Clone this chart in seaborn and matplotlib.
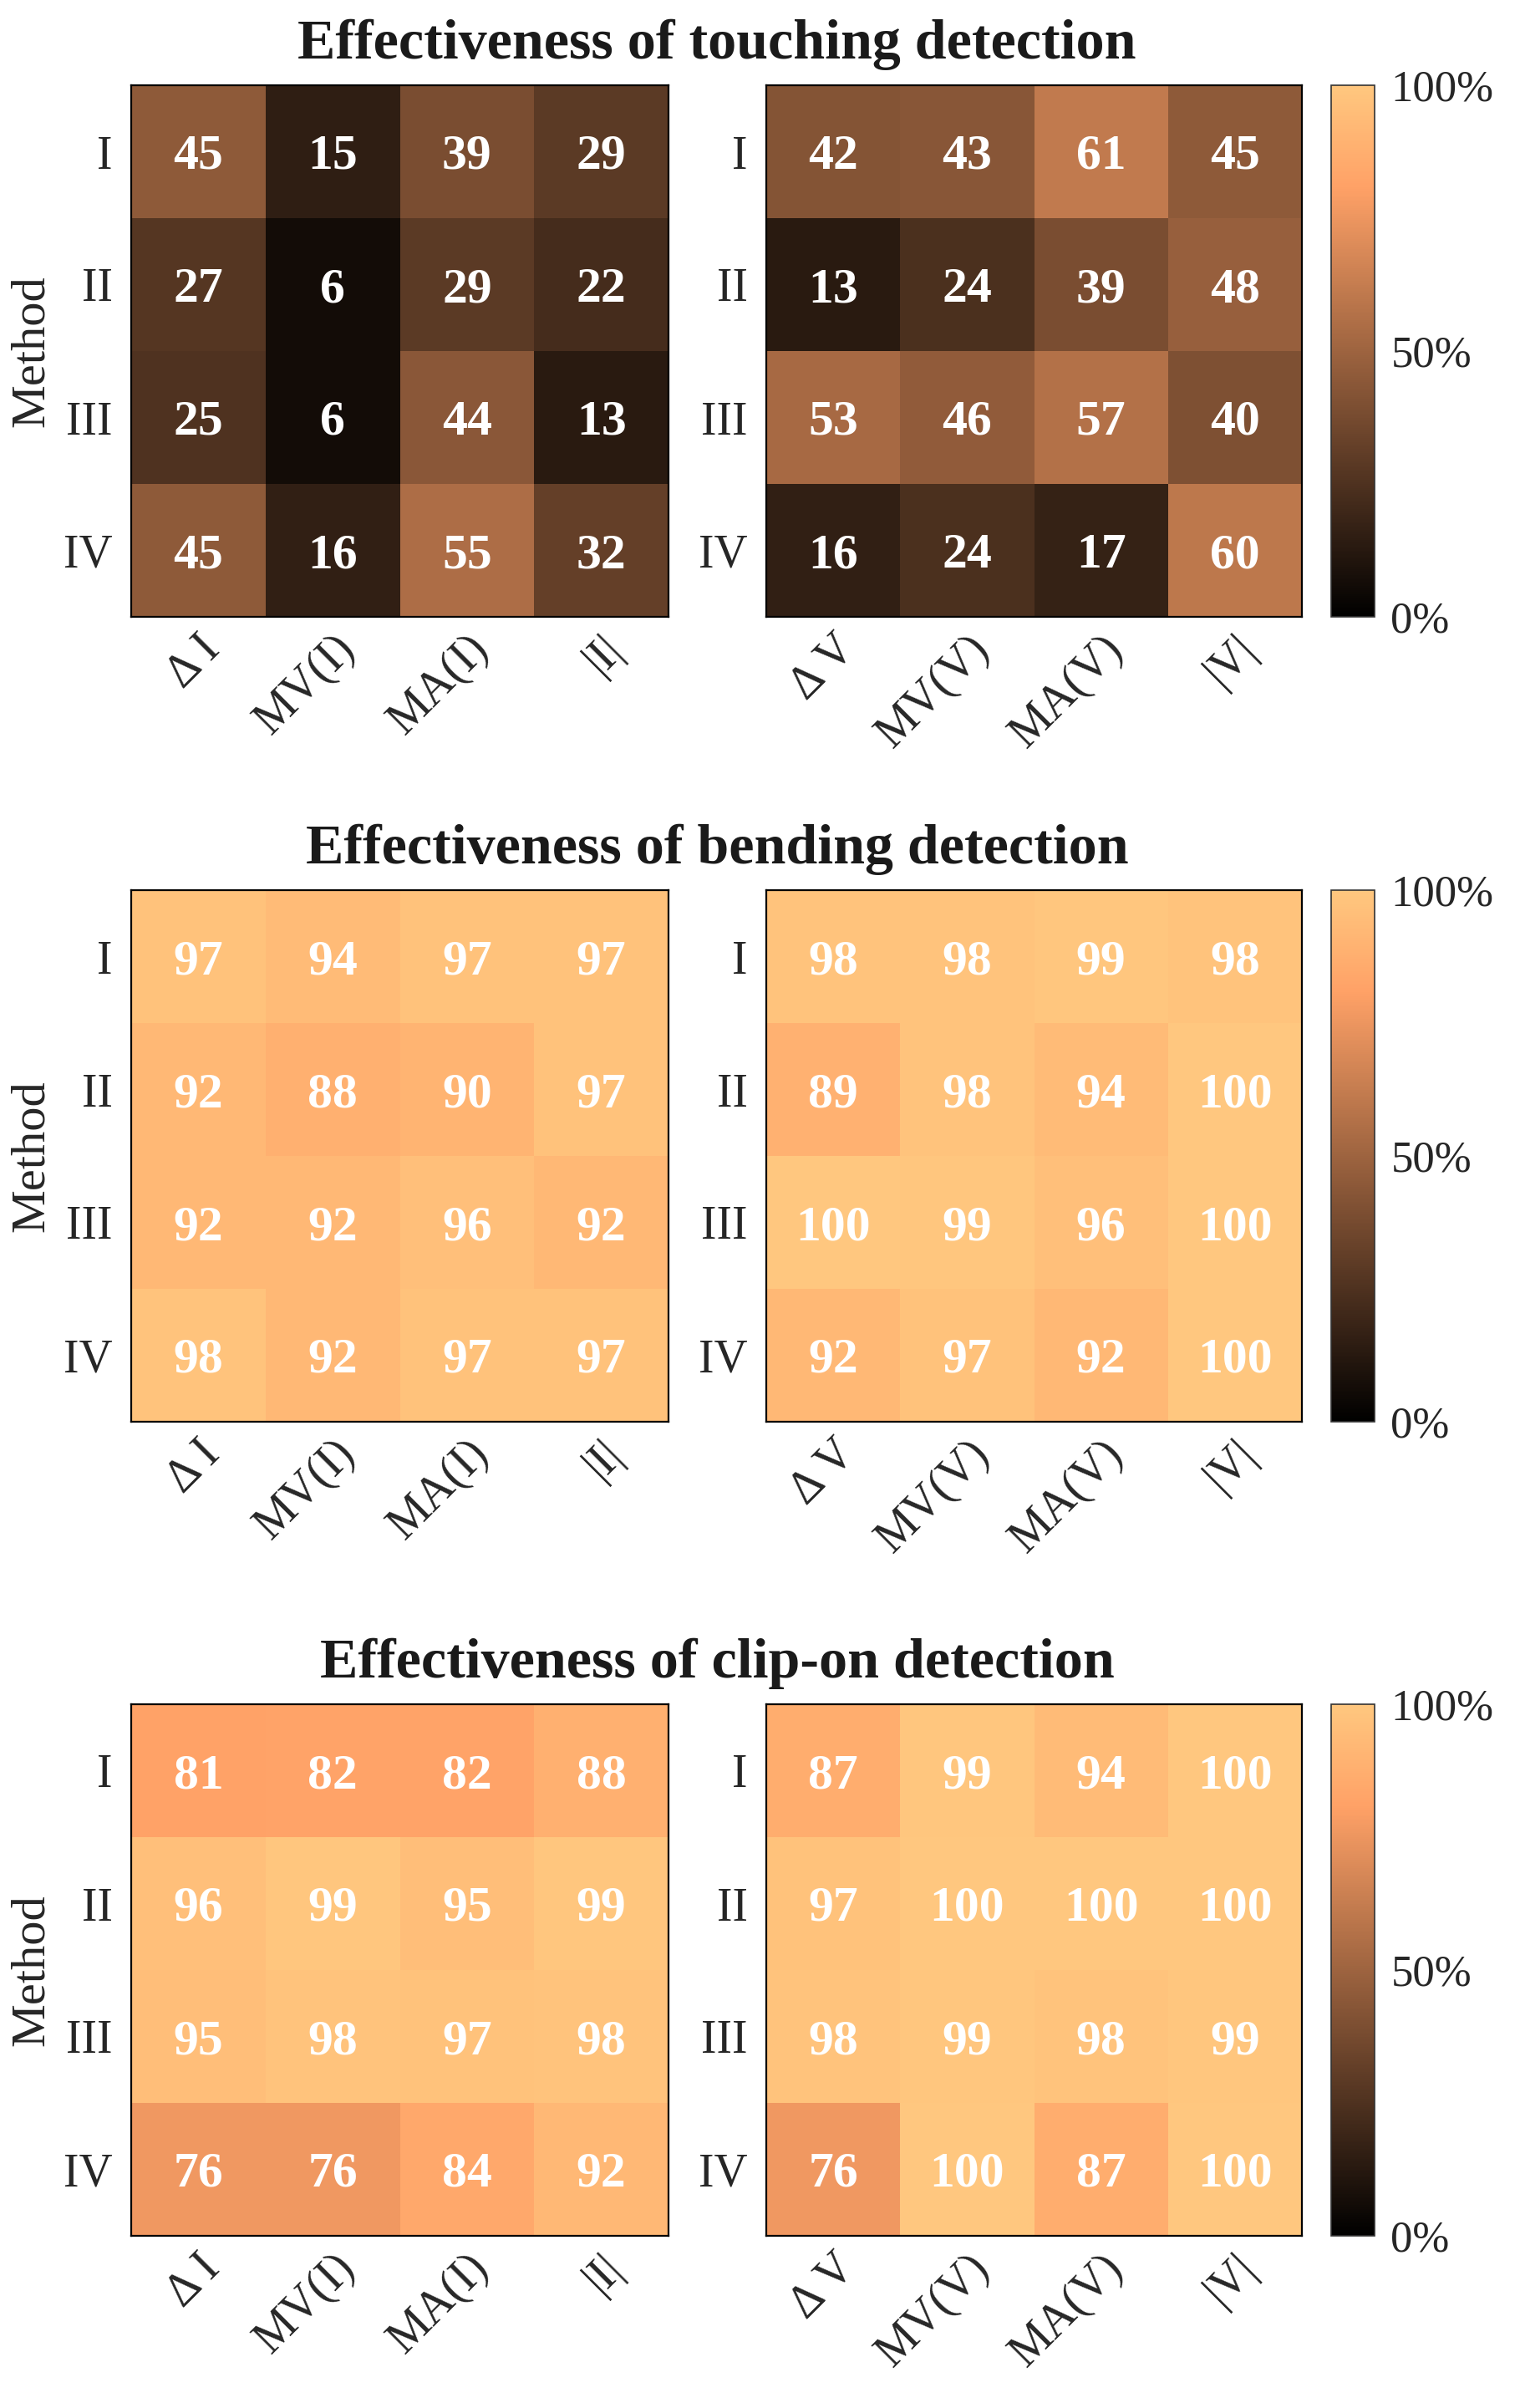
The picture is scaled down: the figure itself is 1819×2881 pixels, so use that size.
import pandas as pd
import seaborn as sns
import matplotlib.pyplot as plt
from matplotlib.transforms import ScaledTranslation

methods = ['I', 'II', 'III', 'IV']
current_features = ['Δ I', 'MV(I)', 'MA(I)', '|I|']
voltage_features = ['Δ V', 'MV(V)', 'MA(V)', '|V|']

touching_current = [[45, 15, 39, 29], [27, 6, 29, 22], [25, 6, 44, 13], [45, 16, 55, 32]]
touching_voltage = [[42, 43, 61, 45], [13, 24, 39, 48], [53, 46, 57, 40], [16, 24, 17, 60]]
bending_current = [[97, 94, 97, 97], [92, 88, 90, 97], [92, 92, 96, 92], [98, 92, 97, 97]]
bending_voltage = [[98, 98, 99, 98], [89, 98, 94, 100], [100, 99, 96, 100], [92, 97, 92, 100]]
clipon_current = [[81, 82, 82, 88], [96, 99, 95, 99], [95, 98, 97, 98], [76, 76, 84, 92]]
clipon_voltage = [[87, 99, 94, 100], [97, 100, 100, 100], [98, 99, 98, 99], [76, 100, 87, 100]]

titles = ['Effectiveness of touching detection',
          'Effectiveness of bending detection',
          'Effectiveness of clip-on detection']
cbar_ticks = [0, 50, 100]
cbar_labels = ['0%', '50%', '100%']

sns.set_theme(style='white')
plt.rcParams['font.family'] = ['Liberation Serif', 'DejaVu Serif']

W, H = 1819, 2881
fig = plt.figure(figsize=(W / 100, H / 100), dpi=100)

panels = [
    (touching_current, touching_voltage, 102),
    (bending_current, bending_voltage, 1065),
    (clipon_current, clipon_voltage, 2039),
]
ax_h = 636


def style_axis(ax, xlabels, show_ylabel):
    for s in ax.spines.values():
        s.set_visible(True)
        s.set_color('black')
        s.set_linewidth(1.6)
    ax.tick_params(axis='both', direction='in', length=6, width=1.3, color='black',
                   top=True, right=True, bottom=True, left=True,
                   labeltop=False, labelright=False, labelsize=40)
    ax.tick_params(axis='y', pad=16)
    ax.tick_params(axis='x', pad=22)
    ax.set_yticklabels(methods, rotation=0, va='center_baseline')
    ax.set_xticklabels(xlabels, rotation=45, ha='right', va='center',
                       rotation_mode='anchor')
    off = ScaledTranslation(18 / 100, 0, fig.dpi_scale_trans)
    for lab in ax.get_xticklabels():
        lab.set_transform(lab.get_transform() + off)
    ax.set_xlabel('')
    if show_ylabel:
        ax.set_ylabel('Method', fontsize=42)
        ax.yaxis.set_label_coords(-0.145, 0.5)
    else:
        ax.set_ylabel('')


for (cur, vol, top), title in zip(panels, titles):
    bottom = 1 - (top + ax_h) / H
    hfrac = ax_h / H
    ax_l = fig.add_axes([157 / W, bottom, 643 / W, hfrac])
    ax_r = fig.add_axes([917 / W, bottom, 641 / W, hfrac])
    cax = fig.add_axes([1593 / W, bottom, 52 / W, hfrac])

    annot_kws = {'color': 'white', 'fontsize': 43, 'fontweight': 'bold',
                 'va': 'center_baseline'}
    df_l = pd.DataFrame(cur, index=methods, columns=current_features)
    df_r = pd.DataFrame(vol, index=methods, columns=voltage_features)
    sns.heatmap(df_l, ax=ax_l, cmap='copper', vmin=0, vmax=100, annot=True, fmt='d',
                annot_kws=annot_kws, cbar=False)
    sns.heatmap(df_r, ax=ax_r, cmap='copper', vmin=0, vmax=100, annot=True, fmt='d',
                annot_kws=annot_kws, cbar=True, cbar_ax=cax,
                cbar_kws={'ticks': cbar_ticks})
    style_axis(ax_l, current_features, True)
    style_axis(ax_r, voltage_features, False)

    cbar = ax_r.collections[0].colorbar
    cbar.set_ticks(cbar_ticks)
    cbar.set_ticklabels(cbar_labels)
    cbar.ax.tick_params(length=0, labelsize=38, pad=14)
    cbar.outline.set_visible(True)
    cbar.outline.set_edgecolor('#333333')
    cbar.outline.set_linewidth(1.2)

    fig.text(858 / W, 1 - (top - 32) / H, title, ha='center', va='baseline',
             fontsize=49, fontweight='bold', color='#1a1a1a')

fig.savefig('out.png', dpi=100, facecolor='white')
